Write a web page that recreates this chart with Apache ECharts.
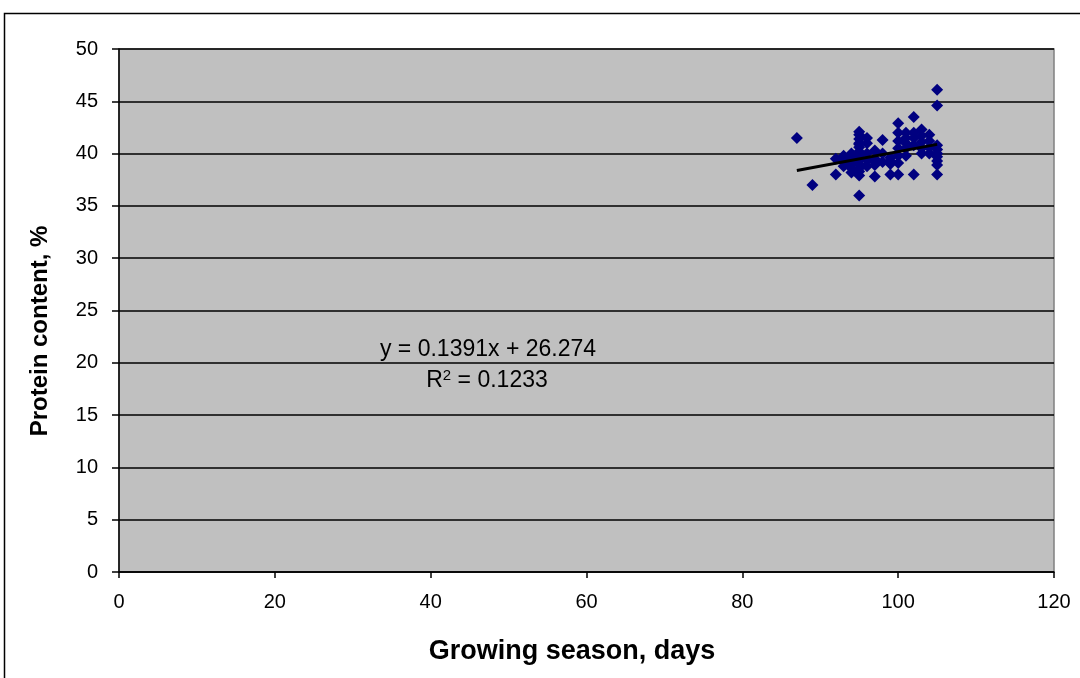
<!DOCTYPE html>
<html>
<head>
<meta charset="utf-8">
<script src="https://cdn.jsdelivr.net/npm/echarts@6/dist/echarts.min.js"></script>
<style>
html,body{margin:0;padding:0;background:#fff;}
#c{width:1080px;height:678px;}
</style>
</head>
<body>
<div id="c"></div>
<script>
// Growing season (days) and protein content (%) observations
const days = [
  87, 89, 92, 92, 93, 93, 93,
  94, 94, 94, 94, 94, 94,
  95, 95, 95, 95, 95, 95, 95, 95, 95, 95, 95, 95, 95, 95, 95,
  96, 96, 96, 96, 96,
  97, 97, 97, 97, 97,
  98, 98, 98,
  99, 99, 99, 99,
  100, 100, 100, 100, 100, 100, 100,
  101, 101, 101, 101, 101,
  102, 102, 102, 102, 102,
  103, 103, 103, 103, 103,
  104, 104, 104, 104,
  105, 105, 105, 105, 105, 105, 105, 105, 105
];
const protein = [
  41.5, 37.0, 39.5, 38.0, 39.3, 38.8, 39.8,
  40.0, 39.5, 39.0, 38.6, 38.2, 39.2,
  42.1, 41.8, 41.4, 41.0, 40.6, 40.2, 39.8, 39.4, 39.0, 38.6, 38.3, 37.9, 40.9, 39.6, 36.0,
  41.5, 40.0, 39.4, 38.8, 41.0,
  40.3, 39.5, 38.9, 37.8, 39.2,
  41.3, 40.0, 39.2,
  39.6, 39.0, 38.0, 39.3,
  42.9, 42.0, 41.2, 40.5, 39.8, 39.1, 38.0,
  42.0, 41.5, 41.0, 40.5, 39.8,
  43.5, 42.0, 41.5, 40.8, 38.0,
  42.3, 41.7, 41.1, 40.5, 40.0,
  41.8, 41.2, 40.6, 40.0,
  46.1, 44.6, 40.8, 40.4, 40.0, 39.7, 39.3, 38.9, 38.0
];
// Linear trend from the chart's equation
const slope = 0.1391;
const intercept = 26.274;
const rSquared = 0.1233;
const trendRange = [87, 105];

const yTicks = ['0','5','10','15','20','25','30','35','40','45','50'];
const xTicks = ['0','20','40','60','80','100','120'];

const pts = days.map((d, i) => [d, protein[i]]);
const trend = trendRange.map(x => [x, slope * x + intercept]);

const chart = echarts.init(document.getElementById('c'));
const font = '"Liberation Sans", Arial, sans-serif';
chart.setOption({
  animation: false,
  backgroundColor: '#ffffff',
  grid: {left: 119, top: 49, right: 26, bottom: 106, show: true,
         backgroundColor: '#c0c0c0', borderColor: '#808080', borderWidth: 1.5},
  xAxis: {
    type: 'value', min: 0, max: 120, interval: 20,
    axisLine: {show: true, onZero: false, lineStyle: {color: '#000', width: 1.5}},
    axisTick: {show: true, length: 6, lineStyle: {color: '#000', width: 1.5}},
    axisLabel: {color: '#000', fontFamily: font, fontSize: 20, margin: 20,
                formatter: v => xTicks[Math.round(v / 20)]},
    splitLine: {show: false}
  },
  yAxis: {
    type: 'value', min: 0, max: 50, interval: 5,
    axisLine: {show: true, onZero: false, lineStyle: {color: '#000', width: 1.5}},
    axisTick: {show: true, length: 7, lineStyle: {color: '#000', width: 1.5}},
    axisLabel: {color: '#000', fontFamily: font, fontSize: 20, margin: 21,
                formatter: v => yTicks[Math.round(v / 5)]},
    splitLine: {show: true, lineStyle: {color: '#000', width: 1.5}}
  },
  series: [
    {
      type: 'scatter', data: pts, symbol: 'diamond', symbolSize: 12,
      itemStyle: {color: '#000080', opacity: 1}, z: 3
    },
    {
      type: 'line', data: trend, symbol: 'none',
      lineStyle: {color: '#000', width: 3}, z: 4
    }
  ],
  graphic: [
    {type: 'rect', shape: {x: 4.5, y: 13.5, width: 1200, height: 800},
     style: {fill: 'none', stroke: '#000', lineWidth: 1.5}, silent: true},
    {type: 'text', x: 40, y: 331, rotation: Math.PI / 2,
     style: {text: 'Protein content, %', font: 'bold 24px ' + font, fill: '#000',
             textAlign: 'center', textVerticalAlign: 'middle'}},
    {type: 'text', x: 572, y: 652,
     style: {text: 'Growing season, days', font: 'bold 27px ' + font, fill: '#000',
             textAlign: 'center', textVerticalAlign: 'middle'}},
    {type: 'text', x: 488, y: 350,
     style: {text: 'y = ' + slope + 'x + ' + intercept, font: '23px ' + font, fill: '#000',
             textAlign: 'center', textVerticalAlign: 'middle'}},
    {type: 'text', x: 487, y: 381,
     style: {rich: {n: {font: '23px ' + font, fill: '#000'},
                    s: {font: '15px ' + font, fill: '#000', verticalAlign: 'top', padding: [0,0,10,0]}},
             text: '{n|R}{s|2}{n| = ' + rSquared + '}',
             textAlign: 'center', textVerticalAlign: 'middle'}}
  ]
});
</script>
</body>
</html>
